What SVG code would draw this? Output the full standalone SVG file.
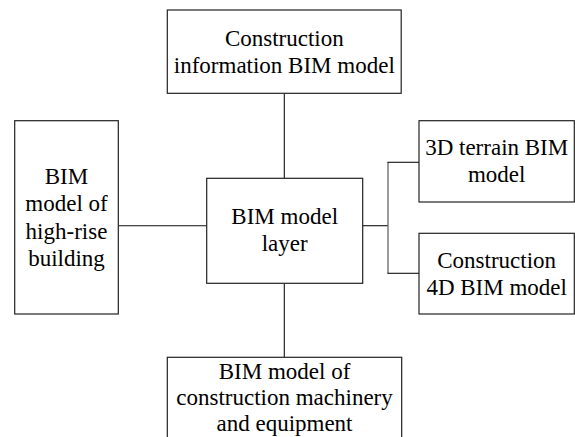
<svg xmlns="http://www.w3.org/2000/svg" width="575" height="437" viewBox="0 0 575 437">
<rect width="575" height="437" fill="#fff"/>
<g id="connectors" fill="none" stroke="#111" stroke-width="1.1">
<line x1="284.3" y1="93.3" x2="284.3" y2="178.3"/>
<line x1="118.3" y1="225.7" x2="206.7" y2="225.7"/>
<line x1="284.3" y1="283.3" x2="284.3" y2="357.3"/>
<line x1="362.7" y1="225.7" x2="388" y2="225.7"/>
<line x1="388" y1="162.3" x2="388" y2="273.3" stroke="#666" stroke-width="1.3"/>
<line x1="387.4" y1="162.3" x2="419" y2="162.3"/>
<line x1="387.4" y1="273.3" x2="419" y2="273.3"/>
</g>
<g id="node-top">
<rect x="167.3" y="10" width="233.9" height="83.3" fill="#fff" stroke="#222" stroke-width="1.2"/>
<text font-family="Liberation Serif" font-size="23" text-anchor="middle" x="284.3" y="45.7">Construction</text>
<text font-family="Liberation Serif" font-size="23" text-anchor="middle" x="284.3" y="73">information BIM model</text>
</g>
<g id="node-left">
<rect x="14.7" y="120.7" width="103.6" height="193.3" fill="#fff" stroke="#222" stroke-width="1.2"/>
<text font-family="Liberation Serif" font-size="23" text-anchor="middle" x="66.5" y="184">BIM</text>
<text font-family="Liberation Serif" font-size="23" text-anchor="middle" x="66.5" y="211.3">model of</text>
<text font-family="Liberation Serif" font-size="23" text-anchor="middle" x="66.5" y="238.6">high-rise</text>
<text font-family="Liberation Serif" font-size="23" text-anchor="middle" x="66.5" y="265.9">building</text>
</g>
<g id="node-center">
<rect x="206.7" y="178.3" width="156" height="105" fill="#fff" stroke="#222" stroke-width="1.2"/>
<text font-family="Liberation Serif" font-size="23" text-anchor="middle" x="284.7" y="223.6">BIM model</text>
<text font-family="Liberation Serif" font-size="23" text-anchor="middle" x="284.7" y="250.9">layer</text>
</g>
<g id="node-right-top">
<rect x="419" y="120.7" width="155.3" height="81.3" fill="#fff" stroke="#222" stroke-width="1.2"/>
<text font-family="Liberation Serif" font-size="23" text-anchor="middle" x="496.7" y="155">3D terrain BIM</text>
<text font-family="Liberation Serif" font-size="23" text-anchor="middle" x="496.7" y="182">model</text>
</g>
<g id="node-right-bottom">
<rect x="419" y="233.3" width="155.3" height="80.7" fill="#fff" stroke="#222" stroke-width="1.2"/>
<text font-family="Liberation Serif" font-size="23" text-anchor="middle" x="496.7" y="267.5">Construction</text>
<text font-family="Liberation Serif" font-size="23" text-anchor="middle" x="496.7" y="294.8">4D BIM model</text>
</g>
<g id="node-bottom">
<rect x="167.3" y="357.3" width="234.4" height="100" fill="#fff" stroke="#222" stroke-width="1.2"/>
<text font-family="Liberation Serif" font-size="23" text-anchor="middle" x="284.5" y="378.5">BIM model of</text>
<text font-family="Liberation Serif" font-size="23" text-anchor="middle" x="284.5" y="404.5">construction machinery</text>
<text font-family="Liberation Serif" font-size="23" text-anchor="middle" x="284.5" y="430.5">and equipment</text>
</g>
</svg>
